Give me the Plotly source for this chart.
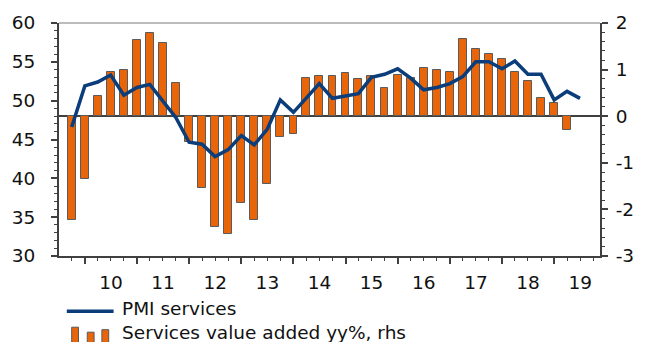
import pandas as pd
import plotly.graph_objects as go

# Quarterly observations, first one in Q4 2009
quarters = pd.date_range("2009-10-01", periods=40, freq="QS")

# PMI services (left axis)
pmi_services = [46.6, 51.9, 52.4, 53.3, 50.7, 51.7, 52.1, 49.9, 47.8, 44.65,
                44.4, 42.8, 43.7, 45.5, 44.3, 46.3, 50.1, 48.5, 50.4, 52.2,
                50.3, 50.6, 50.9, 53.0, 53.4, 54.1, 52.9, 51.4, 51.7, 52.2,
                53.1, 55.0, 55.0, 54.1, 55.1, 53.4, 53.4, 50.1, 51.2, 50.3]

# Services value added, yy% (right axis)
services_va_yy = [-2.23, -1.34, 0.44, 0.94, 1.00, 1.64, 1.79, 1.57, 0.72, -0.56,
                  -1.54, -2.37, -2.52, -1.87, -2.22, -1.45, -0.45, -0.38, 0.81, 0.86,
                  0.87, 0.92, 0.79, 0.87, 0.61, 0.89, 0.83, 1.04, 1.00, 0.95,
                  1.65, 1.44, 1.34, 1.23, 0.95, 0.76, 0.40, 0.28, -0.29]

left_ticks = [30, 35, 40, 45, 50, 55, 60]
right_ticks = [-3, -2, -1, 0, 1, 2]
right_ticktext = ["-3", "-2", "-1", "0", "1", "2"]

series_names = ["PMI services", "Services value added yy%, rhs"]

ORANGE = "#E8650A"
NAVY = "#0A3D7A"
AXIS = "#404040"
FONT = "DejaVu Sans"
FSIZE = 18.5

W, H = 646, 342
L, R, T, B = 56, 35, 22, 86
pw, ph = W - L - R, H - T - B


def px(x):
    return (x - L) / pw


def py(y):
    return (H - B - y) / ph


fig = go.Figure()

fig.add_trace(go.Bar(
    x=quarters[:len(services_va_yy)], y=services_va_yy,
    yaxis="y", width=55 * 86400000,
    marker=dict(color=ORANGE, line=dict(color="#5a5a5a", width=1)),
    name=series_names[1],
))

fig.add_trace(go.Scatter(
    x=quarters[:len(pmi_services)], y=pmi_services,
    yaxis="y2", mode="lines",
    line=dict(color=NAVY, width=3.5),
    name=series_names[0],
))

tickstyle = dict(ticks="outside", ticklen=6, tickwidth=1.5, tickcolor=AXIS,
                 showline=True, linecolor=AXIS, linewidth=2, showgrid=False)

fig.update_layout(
    width=W, height=H,
    margin=dict(l=L, r=R, t=T, b=B),
    paper_bgcolor="white", plot_bgcolor="white",
    showlegend=False,
    font=dict(family=FONT, size=FSIZE, color="#111111"),
    bargap=0,
    xaxis=dict(
        type="date",
        range=["2009-07-04", "2019-11-18"],
        tick0="2010-01-01", dtick="M12", tickformat="%y",
        ticklabelmode="period", ticklabelstandoff=3,
        minor=dict(dtick="M3", ticks="outside", ticklen=3, tickwidth=1,
                   tickcolor=AXIS),
        zeroline=False,
        **tickstyle,
    ),
    yaxis=dict(
        side="right", range=[-3, 2],
        tickvals=right_ticks, ticktext=right_ticktext,
        minor=dict(dtick=0.2, ticks="outside", ticklen=3, tickwidth=1,
                   tickcolor=AXIS),
        zeroline=True, zerolinecolor=AXIS, zerolinewidth=2,
        ticklabelstandoff=4,
        **tickstyle,
    ),
    yaxis2=dict(
        side="left", overlaying="y", range=[30, 60],
        tickvals=left_ticks,
        minor=dict(dtick=1, ticks="outside", ticklen=3, tickwidth=1,
                   tickcolor=AXIS),
        zeroline=False,
        ticklabelstandoff=12,
        **tickstyle,
    ),
)

# Light frame line along the top of the plot area
fig.add_shape(type="line", xref="paper", yref="paper", x0=0, x1=1, y0=1, y1=1,
              line=dict(color="#a6a6a6", width=1.5))

# Legend drawn below the chart
fig.add_shape(type="line", xref="paper", yref="paper",
              x0=px(64), x1=px(112), y0=py(311.5), y1=py(311.5),
              line=dict(color=NAVY, width=3.5))
for x0, x1, top in [(69, 76, 327.5), (85, 92, 332.5), (100, 107, 330)]:
    fig.add_shape(type="rect", xref="paper", yref="paper",
                  x0=px(x0), x1=px(x1), y0=py(346), y1=py(top),
                  fillcolor=ORANGE, line=dict(color="#5a5a5a", width=1))
for name, yc in zip(series_names, [308.5, 332.5]):
    fig.add_annotation(text=name, xref="paper", yref="paper",
                       x=px(120), y=py(yc), xanchor="left", yanchor="middle",
                       showarrow=False, borderpad=0,
                       font=dict(family=FONT, size=FSIZE, color="#111111"))

fig.write_html("out.html")
